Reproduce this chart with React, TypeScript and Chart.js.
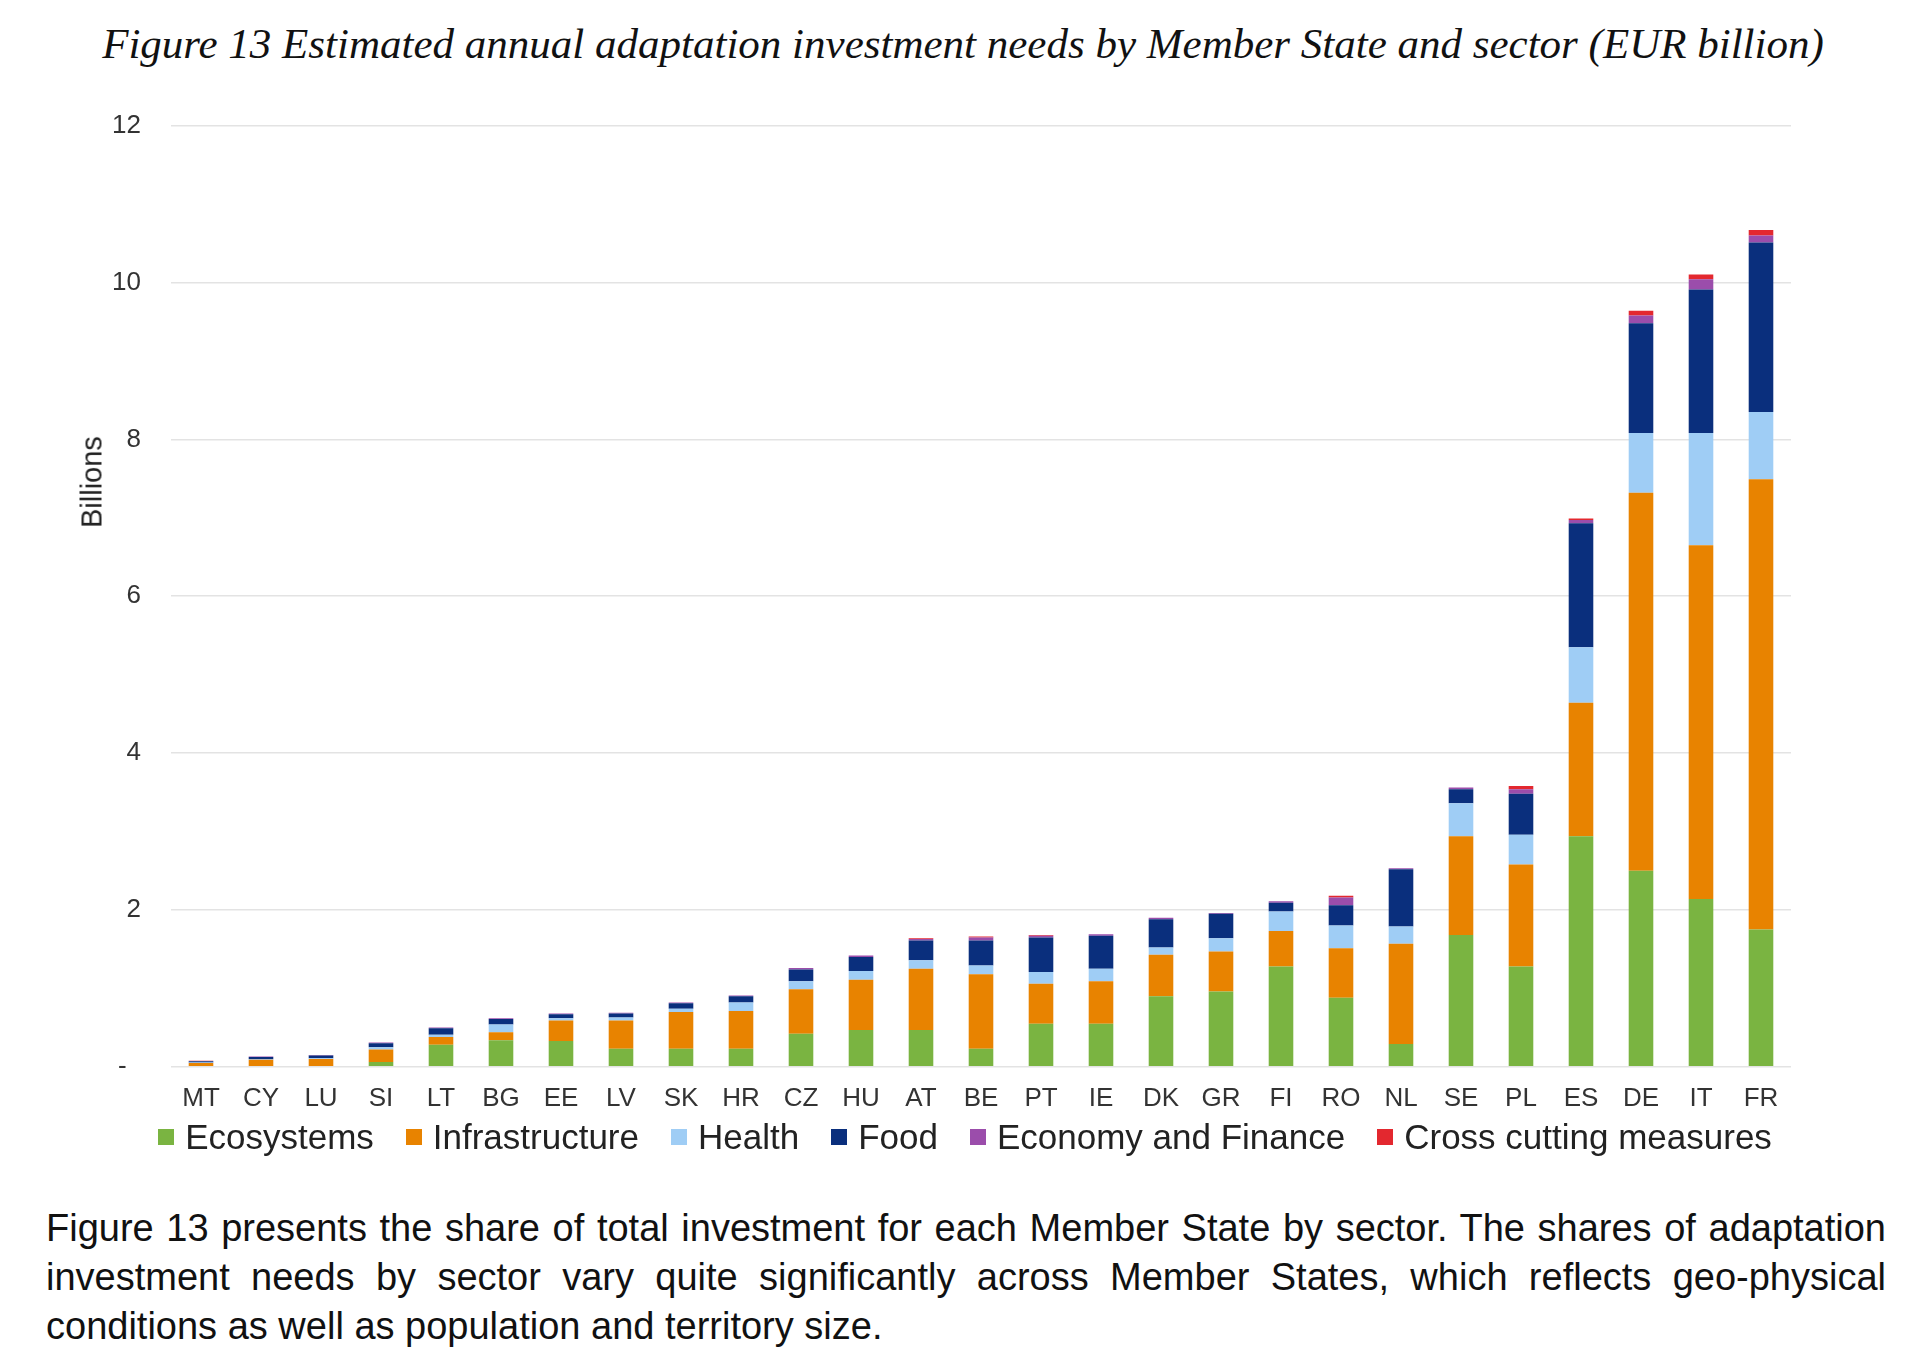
import { useEffect, useRef } from 'react';
import { Chart, registerables } from 'chart.js';

Chart.register(...registerables);

const memberStates = ['MT', 'CY', 'LU', 'SI', 'LT', 'BG', 'EE', 'LV', 'SK', 'HR', 'CZ', 'HU', 'AT', 'BE', 'PT', 'IE', 'DK', 'GR', 'FI', 'RO', 'NL', 'SE', 'PL', 'ES', 'DE', 'IT', 'FR'];

// EUR billion per sector
const ecosystems = [0.01, 0.01, 0.01, 0.06, 0.28, 0.34, 0.33, 0.23, 0.23, 0.23, 0.42, 0.47, 0.47, 0.23, 0.55, 0.55, 0.9, 0.96, 1.28, 0.88, 0.29, 1.68, 1.28, 2.94, 2.5, 2.14, 1.75];
const infrastructure = [0.04, 0.08, 0.09, 0.16, 0.1, 0.1, 0.26, 0.36, 0.47, 0.48, 0.57, 0.64, 0.78, 0.95, 0.51, 0.54, 0.53, 0.51, 0.45, 0.63, 1.28, 1.26, 1.3, 1.7, 4.82, 4.51, 5.74];
const health = [0.005, 0.005, 0.01, 0.03, 0.03, 0.1, 0.03, 0.04, 0.04, 0.11, 0.1, 0.11, 0.11, 0.11, 0.15, 0.16, 0.09, 0.17, 0.25, 0.29, 0.22, 0.42, 0.38, 0.71, 0.76, 1.43, 0.86];
const food = [0.015, 0.03, 0.035, 0.05, 0.08, 0.07, 0.05, 0.05, 0.07, 0.08, 0.15, 0.18, 0.25, 0.32, 0.44, 0.42, 0.36, 0.31, 0.11, 0.26, 0.73, 0.18, 0.52, 1.58, 1.4, 1.83, 2.16];
const economyFinance = [0.005, 0.005, 0.005, 0.01, 0.01, 0.01, 0.01, 0.01, 0.01, 0.01, 0.02, 0.02, 0.02, 0.04, 0.02, 0.02, 0.02, 0.01, 0.02, 0.1, 0.01, 0.02, 0.06, 0.04, 0.1, 0.13, 0.09];
const crossCutting = [0.001, 0, 0, 0, 0, 0, 0, 0, 0, 0, 0, 0, 0.01, 0.01, 0.01, 0, 0, 0, 0, 0.02, 0, 0, 0.04, 0.02, 0.06, 0.06, 0.07];

const yTicks = [0, 2, 4, 6, 8, 10, 12];

const sectors = [
  { label: 'Ecosystems', data: ecosystems, color: '#7ab441' },
  { label: 'Infrastructure', data: infrastructure, color: '#e88300' },
  { label: 'Health', data: health, color: '#9fcdf5' },
  { label: 'Food', data: food, color: '#0a2f7d' },
  { label: 'Economy and Finance', data: economyFinance, color: '#9b4dab' },
  { label: 'Cross cutting measures', data: crossCutting, color: '#e3282f' },
];

const sans = 'Liberation Sans, Arial, sans-serif';

const App = () => {
  const canvasRef = useRef<HTMLCanvasElement>(null);

  useEffect(() => {
    let chart: Chart | undefined;
    if (canvasRef.current) {
      chart = new Chart(canvasRef.current, {
        type: 'bar',
        data: {
          labels: memberStates,
          datasets: sectors.map((s) => ({
            label: s.label,
            data: s.data,
            backgroundColor: s.color,
            borderWidth: 0,
            barPercentage: 0.41,
            categoryPercentage: 1,
          })),
        },
        options: {
          animation: false,
          responsive: true,
          maintainAspectRatio: false,
          layout: { padding: { top: 43, left: 40, right: 129, bottom: 0 } },
          plugins: {
            tooltip: { enabled: false },
            legend: { display: false },
          },
          scales: {
            x: {
              stacked: true,
              grid: { display: false, drawTicks: false },
              border: { display: false },
              ticks: {
                color: '#333',
                padding: 16,
                maxRotation: 0,
                autoSkip: false,
                font: { family: sans, size: 26 },
              },
            },
            y: {
              stacked: true,
              min: 0,
              max: 12,
              afterBuildTicks: (scale) => {
                scale.ticks = yTicks.map((v) => ({ value: v }));
              },
              grid: { color: '#e3e3e3', lineWidth: 1.5, drawTicks: false },
              border: { display: false },
              ticks: {
                color: '#333',
                padding: 30,
                font: { family: sans, size: 26 },
                callback: (v) => (Number(v) === 0 ? '-  ' : String(v)),
              },
              afterFit: (scale) => {
                scale.width = 131;
              },
            },
          },
        },
      });
    }
    return () => {
      chart?.destroy();
    };
  }, []);

  const paraLine = {
    fontFamily: sans,
    fontSize: 38,
    lineHeight: '49px',
    color: '#111',
  } as const;

  return (
    <div style={{ position: 'absolute', left: 0, top: 0, width: 1920, height: 1372, background: '#fff', overflow: 'hidden' }}>
      <div
        style={{
          position: 'absolute',
          top: 21,
          left: 3,
          width: 1920,
          textAlign: 'center',
          fontFamily: 'Liberation Serif, serif',
          fontStyle: 'italic',
          fontSize: 43,
          lineHeight: '46px',
          color: '#111',
          whiteSpace: 'nowrap',
        }}
      >
        Figure 13 Estimated annual adaptation investment needs by Member State and sector (EUR billion)
      </div>
      <div style={{ position: 'absolute', top: 80, left: 0, width: 1920, height: 1050 }}>
        <canvas ref={canvasRef}></canvas>
      </div>
      <div
        style={{
          position: 'absolute',
          left: 92,
          top: 482,
          transform: 'translate(-50%, -50%) rotate(-90deg)',
          fontFamily: sans,
          fontSize: 29,
          color: '#222',
          whiteSpace: 'nowrap',
        }}
      >
        Billions
      </div>
      <div
        style={{
          position: 'absolute',
          top: 1115,
          left: 0,
          width: 1930,
          display: 'flex',
          justifyContent: 'center',
          gap: 32,
          fontFamily: sans,
          fontSize: 35,
          lineHeight: '44px',
          color: '#222',
        }}
      >
        {sectors.map((s) => (
          <div key={s.label} style={{ display: 'flex', alignItems: 'center', whiteSpace: 'nowrap' }}>
            <span style={{ display: 'inline-block', width: 16, height: 16, background: s.color, marginRight: 11 }}></span>
            {s.label}
          </div>
        ))}
      </div>
      <div style={{ position: 'absolute', top: 1204, left: 46, width: 1840 }}>
        <div style={{ ...paraLine, textAlign: 'justify', textAlignLast: 'justify' }}>
          Figure 13 presents the share of total investment for each Member State by sector. The shares of adaptation
        </div>
        <div style={{ ...paraLine, textAlign: 'justify', textAlignLast: 'justify' }}>
          investment needs by sector vary quite significantly across Member States, which reflects geo-physical
        </div>
        <div style={{ ...paraLine }}>conditions as well as population and territory size.</div>
      </div>
    </div>
  );
};

export default App;
